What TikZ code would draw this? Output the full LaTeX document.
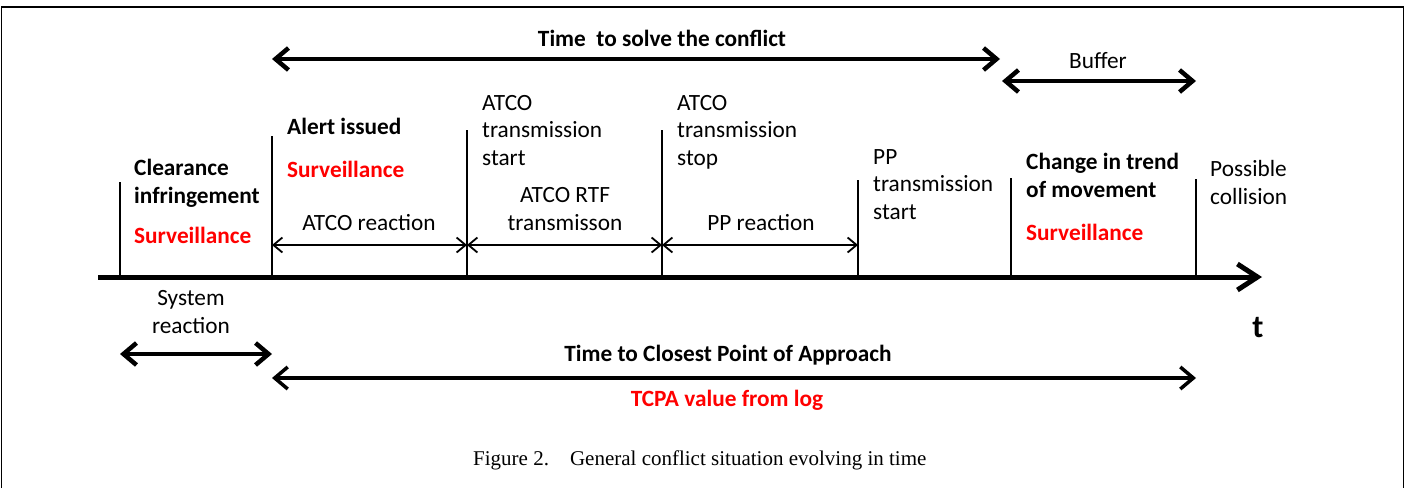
\documentclass[tikz,border=0pt]{standalone}
\usepackage{fontspec}
\setmainfont{Carlito}
\newfontfamily\capfont{Liberation Serif}
\usetikzlibrary{arrows.meta}

\begin{document}
\begin{tikzpicture}[x=1pt,y=-1pt,
        txt/.style={inner sep=0pt,anchor=base west,align=left,font=\fontsize{23.3}{27.5}\selectfont},
        bld/.style={txt,font=\fontsize{23.3}{27.5}\selectfont\bfseries},
        alarm/.style={bld,text=red},
        tick/.style={line width=2.5pt},
        span/.style={line width=1.8pt,{Straight Barb[length=9pt,width=15pt]}-{Straight Barb[length=9pt,width=15pt]}},
        wide/.style={line width=4.5pt,{Straight Barb[length=13pt,width=22pt]}-{Straight Barb[length=13pt,width=22pt]}}]
        \useasboundingbox (0,0) rectangle (1407,488);
        \draw [line width=1.5pt] (1.5,488) -- (1.5,7) -- (1403.5,7) -- (1403.5,488);
        \coordinate (e1) at (120,277);
        \coordinate (e2) at (272,277);
        \coordinate (e3) at (467,277);
        \coordinate (e4) at (662,277);
        \coordinate (e5) at (858,277);
        \coordinate (e6) at (1011,277);
        \coordinate (e7) at (1196,277);
        \coordinate (axstart) at (98,277);
        \coordinate (axend) at (1262,277);
        \coordinate (rspan) at (0,245);
        \coordinate (rsolve) at (0,59);
        \coordinate (rbuf) at (0,81);
        \coordinate (rsys) at (0,354);
        \coordinate (rtcpa) at (0,378);
        \coordinate (solveend) at (1000,59);
        \coordinate (bufstart) at (1002,81);
        \draw [tick] (e1) -- ++(0,-95);
        \draw [tick] (e2) -- ++(0,-141);
        \draw [tick] (e3) -- ++(0,-147);
        \draw [tick] (e4) -- ++(0,-147);
        \draw [tick] (e5) -- ++(0,-97);
        \draw [tick] (e6) -- ++(0,-99);
        \draw [tick] (e7) -- ++(0,-98);
        \draw [line width=5pt,-{Straight Barb[length=20pt,width=26pt]}] (axstart) -- (axend);
        \draw [span] (e2 |- rspan) -- (e3 |- rspan);
        \draw [span] (e3 |- rspan) -- (e4 |- rspan);
        \draw [span] (e4 |- rspan) -- (e5 |- rspan);
        \draw [wide] (e2 |- rsolve) -- (solveend);
        \draw [wide] (bufstart) -- (e7 |- rbuf);
        \draw [wide] (e1 |- rsys) -- (e2 |- rsys);
        \draw [wide,line width=3.5pt] (e2 |- rtcpa) -- (e7 |- rtcpa);
        \node [bld] (clear) at (134,203) {Clearance\\infringement};
        \node [alarm] (surv1) at (134,243) {Surveillance};
        \node [bld] (alert) at (287,134) {Alert issued};
        \node [alarm] (surv2) at (287,177) {Surveillance};
        \node [txt,anchor=base] (atcoreact) at (369,230) {ATCO reaction};
        \node [txt] (txstart) at (482,165) {ATCO\\transmission\\start};
        \node [txt,anchor=base,align=center] (rtf) at (565,230) {ATCO RTF\\transmisson};
        \node [txt] (txstop) at (677,165) {ATCO\\transmission\\stop};
        \node [txt,anchor=base] (ppreact) at (761,230) {PP reaction};
        \node [txt] (ppstart) at (873,219) {PP\\transmission\\start};
        \node [bld] (trend) at (1026,197) {Change in trend\\of movement};
        \node [alarm] (surv3) at (1026,240) {Surveillance};
        \node [txt] (collision) at (1210,204) {Possible\\collision};
        \node [bld,anchor=base] (solve) at (662,46) {Time\ \ to solve the conflict};
        \node [txt,anchor=base] (buffer) at (1098,68) {Buffer};
        \node [txt,anchor=base,align=center] (sysreact) at (191,333) {System\\reaction};
        \node [bld,anchor=base] (tcpa) at (728,361) {Time to Closest Point of Approach};
        \node [alarm,anchor=base] (tcpalog) at (727,406) {TCPA value from log};
        \node [inner sep=0pt,anchor=base,font=\fontsize{32}{36}\selectfont\bfseries] (t) at (1258,337) {t};
        \node [inner sep=0pt,anchor=base west,font=\capfont\fontsize{21}{24}\selectfont] (caption) at (473,465) {Figure 2.\hspace{1em}General conflict situation evolving in time};
\end{tikzpicture}
\end{document}
